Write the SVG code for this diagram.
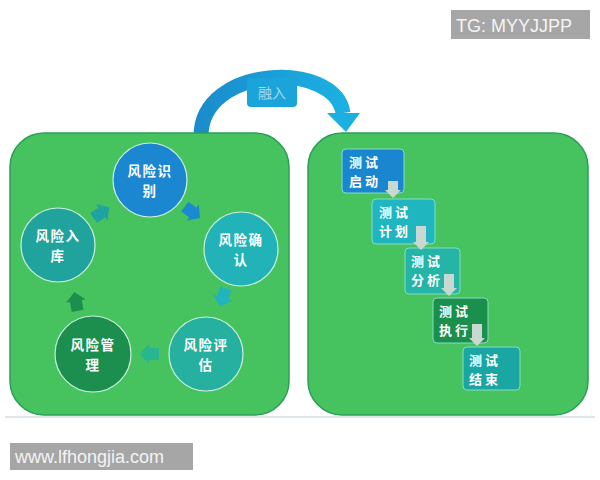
<svg xmlns="http://www.w3.org/2000/svg" width="600" height="480" viewBox="0 0 600 480">
<defs>
<style>
.panel{fill:#46c35e;stroke:#2a9e58;stroke-width:1.5}
.circ{stroke:#cdeee0;stroke-width:1.2}
.ct{font-family:"Noto Sans CJK SC","Noto Sans",sans-serif;font-size:13.5px;font-weight:bold;fill:#ffffff;text-anchor:middle;letter-spacing:1.5px}
.step{stroke:#86dcc6;stroke-width:1}
.st{font-family:"Noto Sans CJK SC","Noto Sans",sans-serif;font-size:13px;font-weight:bold;fill:#ffffff;letter-spacing:3px}
.darr{fill:#c9d8d1}
.wm{fill:#a6a6a6}
.wmt{font-family:"Liberation Sans",Arial,sans-serif;font-size:18px;fill:#f4f4f4}
</style>
<linearGradient id="arcg" x1="0" y1="0" x2="1" y2="0">
<stop offset="0" stop-color="#1a8ccc"/>
<stop offset="1" stop-color="#1bb0e2"/>
</linearGradient>
<path id="blk" d="M-9,-6 H1 V-10 L10,0 L1,10 V6 H-9 Z"/>
</defs>
<rect width="600" height="480" fill="#ffffff"/>

<g id="watermark-top">
<rect class="wm" x="451" y="10" width="139" height="29"/>
<text class="wmt" x="456" y="32">TG: MYYJJPP</text>
</g>

<g id="connectors">
<path d="M201,136 C201,65 335,60 343,113" fill="none" stroke="url(#arcg)" stroke-width="15"/>
<polygon points="327,113 360,113 346,132" fill="#1bb0e2"/>
</g>

<g id="label-rongru">
<rect x="247" y="78" width="50" height="29" rx="4" fill="#1ba4d9"/>
<text x="272" y="98" text-anchor="middle" font-family="'Noto Sans CJK SC','Noto Sans',sans-serif" font-size="14" fill="#a8d9ef">融入</text>
</g>

<line x1="5" y1="417" x2="595" y2="417" stroke="#dfe6ea" stroke-width="2"/>

<g id="panel-left">
<rect class="panel" x="10" y="133" width="279" height="282" rx="34"/>
</g>
<g id="panel-right">
<rect class="panel" x="308" y="133" width="280" height="282" rx="34"/>
</g>

<g id="cycle-arrows">
<use href="#blk" transform="translate(101,213) rotate(-35)" fill="#20a3a0"/>
<use href="#blk" transform="translate(192,212) rotate(37)" fill="#1a8ad0"/>
<use href="#blk" transform="translate(223,297) rotate(108)" fill="#22b3bb"/>
<use href="#blk" transform="translate(150,354) rotate(180)" fill="#28b590"/>
<use href="#blk" transform="translate(76,302) rotate(-100)" fill="#1c8f4e"/>
</g>

<g id="risk-identify">
<circle class="circ" cx="150" cy="180" r="37" fill="#1a87d0"/>
<text class="ct" x="150" y="176">风险识<tspan x="150" dy="20">别</tspan></text>
</g>
<g id="risk-confirm">
<circle class="circ" cx="241" cy="249" r="37" fill="#21b3b8"/>
<text class="ct" x="241" y="245">风险确<tspan x="241" dy="20">认</tspan></text>
</g>
<g id="risk-assess">
<circle class="circ" cx="206" cy="354" r="37" fill="#25b0a0"/>
<text class="ct" x="206" y="350">风险评<tspan x="206" dy="20">估</tspan></text>
</g>
<g id="risk-manage">
<circle class="circ" cx="93" cy="354" r="38" fill="#1c8f4e"/>
<text class="ct" x="93" y="350">风险管<tspan x="93" dy="20">理</tspan></text>
</g>
<g id="risk-store">
<circle class="circ" cx="58" cy="245" r="37" fill="#20a39c"/>
<text class="ct" x="58" y="241">风险入<tspan x="58" dy="20">库</tspan></text>
</g>

<g id="test-start">
<rect class="step" x="342" y="149" width="62" height="44" rx="4" fill="#1a86d0"/>
<text class="st" x="349" y="167">测试<tspan x="349" dy="19">启动</tspan></text>
</g>
<g id="test-plan">
<rect class="step" x="372" y="199" width="63" height="45" rx="4" fill="#20b6c0"/>
<text class="st" x="379" y="217">测试<tspan x="379" dy="19">计划</tspan></text>
</g>
<g id="test-analyze">
<rect class="step" x="405" y="248" width="55" height="46" rx="4" fill="#24b5a8"/>
<text class="st" x="411" y="266">测试<tspan x="411" dy="19">分析</tspan></text>
</g>
<g id="test-exec">
<rect class="step" x="433" y="298" width="55" height="45" rx="4" fill="#1b8f4c"/>
<text class="st" x="439" y="316">测试<tspan x="439" dy="19">执行</tspan></text>
</g>
<g id="test-end">
<rect class="step" x="463" y="347" width="57" height="43" rx="4" fill="#1aa6a2"/>
<text class="st" x="469" y="365">测试<tspan x="469" dy="19">结束</tspan></text>
</g>

<g id="step-arrows">
<path class="darr" d="M388,181 H398 V190 H401 L393,198 L385,190 H388 Z"/>
<path class="darr" d="M416,226 H426 V242 H429 L421,250 L413,242 H416 Z"/>
<path class="darr" d="M444,274 H454 V288 H457 L449,296 L441,288 H444 Z"/>
<path class="darr" d="M472,324 H482 V338 H485 L477,346 L469,338 H472 Z"/>
</g>

<g id="watermark-bottom">
<rect class="wm" x="10" y="443" width="183" height="27"/>
<text class="wmt" x="15" y="463">www.lfhongjia.com</text>
</g>
</svg>
